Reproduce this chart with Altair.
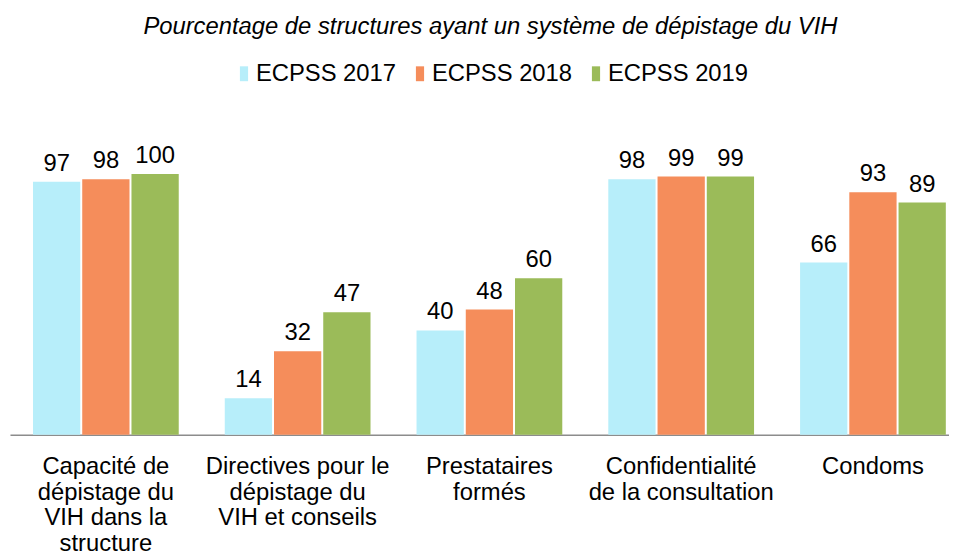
import altair as alt
import pandas as pd

categories = [
    "Capacité de\ndépistage du\nVIH dans la\nstructure",
    "Directives pour le\ndépistage du\nVIH et conseils",
    "Prestataires\nformés",
    "Confidentialité\nde la consultation",
    "Condoms",
]
series = ["ECPSS 2017", "ECPSS 2018", "ECPSS 2019"]
v2017 = [97, 14, 40, 98, 66]
v2018 = [98, 32, 48, 99, 93]
v2019 = [100, 47, 60, 99, 89]
colors = ["#B7EEFA", "#F58D5B", "#9BBB59"]

rows = []
for s, vals in zip(series, [v2017, v2018, v2019]):
    for c, v in zip(categories, vals):
        rows.append({"cat": c, "serie": s, "val": v})
df = pd.DataFrame(rows)

FONT = "Liberation Sans"
FS = 24

x = alt.X(
    "cat:N",
    sort=categories,
    title=None,
    scale=alt.Scale(range=[0, 967], paddingInner=0.24, paddingOuter=0.12),
    axis=alt.Axis(
        labelExpr="split(datum.value, '\\n')",
        labelAngle=0,
        labelFont=FONT,
        labelFontSize=FS,
        labelLineHeight=26,
        labelColor="#000000",
        labelPadding=20,
        labelLimit=400,
        ticks=False,
        domainColor="#8c8c8c",
        domainWidth=1.5,
        grid=False,
    ),
)
xo = alt.XOffset(
    "serie:N",
    sort=series,
    scale=alt.Scale(paddingInner=0.04, paddingOuter=0),
)
y = alt.Y(
    "val:Q",
    scale=alt.Scale(domain=[0, 100], nice=False, zero=True),
    axis=None,
)
color = alt.Color(
    "serie:N",
    sort=series,
    scale=alt.Scale(domain=series, range=colors),
    legend=alt.Legend(
        title=None,
        orient="none",
        direction="horizontal",
        legendX=224,
        legendY=-113,
        symbolType="M-0.55,-1H0.55V1H-0.55Z",
        symbolSize=225,
        symbolStrokeWidth=0,
        labelFont=FONT,
        labelFontSize=FS,
        labelColor="#000000",
        labelOffset=0,
        columnPadding=11.5,
        padding=0,
    ),
)

bars = alt.Chart(df).mark_bar(stroke=None).encode(x=x, xOffset=xo, y=y, color=color)
labels = alt.Chart(df).mark_text(
    baseline="alphabetic", dy=-11, font=FONT, fontSize=FS, color="#000000"
).encode(x=x, xOffset=xo, y=y, text=alt.Text("val:Q"))

chart = (
    alt.layer(bars, labels)
    .properties(
        width=947,
        height=263,
        autosize=alt.AutoSizeParams(type="none"),
        padding={"left": 2, "top": 165, "right": 0, "bottom": 119},
        title=alt.TitleParams(
            "Pourcentage de structures ayant un système de dépistage du VIH",
            font=FONT,
            fontSize=FS,
            fontStyle="italic",
            fontWeight="normal",
            color="#000000",
            anchor="middle",
            frame="group",
            orient="top",
            offset=23,
            dx=11,
        ),
    )
    .configure_view(stroke=None)
)

chart.save("out.html", embed_options={"renderer": "svg", "actions": False})
